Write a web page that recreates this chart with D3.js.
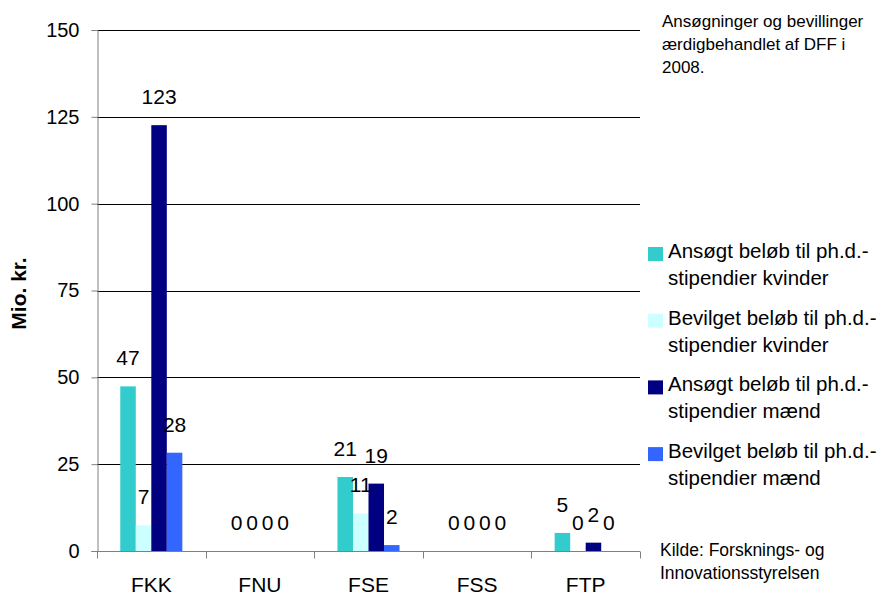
<!DOCTYPE html>
<html>
<head>
<meta charset="utf-8">
<script src="https://cdnjs.cloudflare.com/ajax/libs/d3/7.8.5/d3.min.js"></script>
<style>
  body { margin: 0; background: #fff; }
  text { font-family: "Liberation Sans", Arial, sans-serif; fill: #000; }
</style>
</head>
<body>
<div id="chart"></div>
<script>
// data
var categories = ["FKK", "FNU", "FSE", "FSS", "FTP"];
var seriesNames = [
  ["Ansøgt beløb til ph.d.-", "stipendier kvinder"],
  ["Bevilget beløb til ph.d.-", "stipendier kvinder"],
  ["Ansøgt beløb til ph.d.-", "stipendier mænd"],
  ["Bevilget beløb til ph.d.-", "stipendier mænd"]
];
var seriesColors = ["#33CCCC", "#CCFFFF", "#000080", "#3366FF"];
var ansoegtKvinder  = [47.4, 0, 21.3, 0, 5.2];
var bevilgetKvinder = [7.4, 0, 10.8, 0, 0];
var ansoegtMaend    = [122.6, 0, 19.4, 0, 2.4];
var bevilgetMaend   = [28.3, 0, 1.7, 0, 0];
var yTicks = [0, 25, 50, 75, 100, 125, 150];
var titleLines = ["Ansøgninger og bevillinger", "ærdigbehandlet af DFF i", "2008."];
var sourceLines = ["Kilde: Forsknings- og", "Innovationsstyrelsen"];

var series = [ansoegtKvinder, bevilgetKvinder, ansoegtMaend, bevilgetMaend];

var W = 885, H = 597;
var margin = { top: 30, left: 97, right: 245, bottom: 46 };
var width = W - margin.left - margin.right;   // 543
var height = H - margin.top - margin.bottom;  // 521

var svg = d3.select("#chart").append("svg")
    .attr("width", W).attr("height", H);

var g = svg.append("g")
    .attr("transform", "translate(" + margin.left + "," + margin.top + ")");

var y = d3.scaleLinear().domain([0, 150]).range([height, 0]);
var x0 = d3.scaleBand().domain(categories).range([0, width]).paddingInner(0).paddingOuter(0);
var x1 = d3.scaleBand().domain(d3.range(4)).range([0, x0.bandwidth()]).paddingOuter(1.5).paddingInner(0);

// gridlines
g.selectAll(".grid")
    .data(yTicks.slice(1))
    .enter().append("line")
    .attr("x1", 0).attr("x2", width)
    .attr("y1", d => Math.round(y(d)) + 0.5).attr("y2", d => Math.round(y(d)) + 0.5)
    .attr("stroke", "#000").attr("stroke-width", 1);

// y axis
var yAxis = g.append("g")
    .attr("transform", "translate(0.5,0)")
    .call(d3.axisLeft(y).tickValues(yTicks).tickSize(6).tickPadding(12));
yAxis.select(".domain").attr("stroke", "#808080");
yAxis.selectAll(".tick line").attr("stroke", "#808080");
yAxis.selectAll("text").style("font-size", "20px").style("font-family", "Liberation Sans, Arial, sans-serif");

// x axis with ticks at category boundaries
var xAxisG = g.append("g").attr("transform", "translate(0," + (height + 0.5) + ")");
xAxisG.append("line").attr("x1", 0).attr("x2", width).attr("stroke", "#808080");
xAxisG.selectAll(".xt")
    .data(d3.range(categories.length + 1))
    .enter().append("line")
    .attr("x1", i => Math.round(i * x0.bandwidth()) + 0.5)
    .attr("x2", i => Math.round(i * x0.bandwidth()) + 0.5)
    .attr("y1", 0).attr("y2", 7)
    .attr("stroke", "#808080");
xAxisG.selectAll(".xl")
    .data(categories)
    .enter().append("text")
    .attr("x", d => x0(d) + x0.bandwidth() / 2)
    .attr("y", 40)
    .attr("text-anchor", "middle")
    .style("font-size", "21px")
    .text(d => d);

// bars
var groups = g.selectAll(".cat")
    .data(categories)
    .enter().append("g")
    .attr("transform", d => "translate(" + x0(d) + ",0)");

groups.selectAll("rect")
    .data((d, i) => series.map((s, k) => ({ k: k, v: s[i] })))
    .enter().append("rect")
    .attr("x", d => x1(d.k))
    .attr("width", x1.bandwidth())
    .attr("y", d => y(d.v))
    .attr("height", d => height - y(d.v))
    .attr("fill", d => seriesColors[d.k]);

groups.selectAll(".lbl")
    .data((d, i) => series.map((s, k) => ({ k: k, v: s[i] })))
    .enter().append("text")
    .attr("x", d => x1(d.k) + x1.bandwidth() / 2)
    .attr("y", d => y(d.v) - 21)
    .attr("text-anchor", "middle")
    .style("font-size", "21px")
    .text(d => d3.format(".0f")(d.v));

// y title
svg.append("text")
    .attr("transform", "translate(26," + (margin.top + height / 2 + 3) + ") rotate(-90)")
    .attr("text-anchor", "middle")
    .style("font-size", "21px").style("font-weight", "bold")
    .text("Mio. kr.");

// legend
var legend = svg.append("g").attr("transform", "translate(648,245)");
var items = legend.selectAll(".item")
    .data(seriesNames)
    .enter().append("g")
    .attr("transform", (d, i) => "translate(0," + (i * 66.7) + ")");
items.append("rect")
    .attr("width", 15).attr("height", 14)
    .attr("y", 2)
    .attr("fill", (d, i) => seriesColors[i]);
items.selectAll("text")
    .data(d => d)
    .enter().append("text")
    .attr("x", 20)
    .attr("y", (d, j) => 13 + j * 27)
    .style("font-size", "20.5px")
    .text(d => d);

// top right note
svg.selectAll(".note")
    .data(titleLines)
    .enter().append("text")
    .attr("x", 662).attr("y", (d, i) => 27 + i * 23)
    .style("font-size", "17px")
    .text(d => d);

// source
svg.selectAll(".src")
    .data(sourceLines)
    .enter().append("text")
    .attr("x", 660).attr("y", (d, i) => 556 + i * 23)
    .style("font-size", "17.5px")
    .text(d => d);
</script>
</body>
</html>
